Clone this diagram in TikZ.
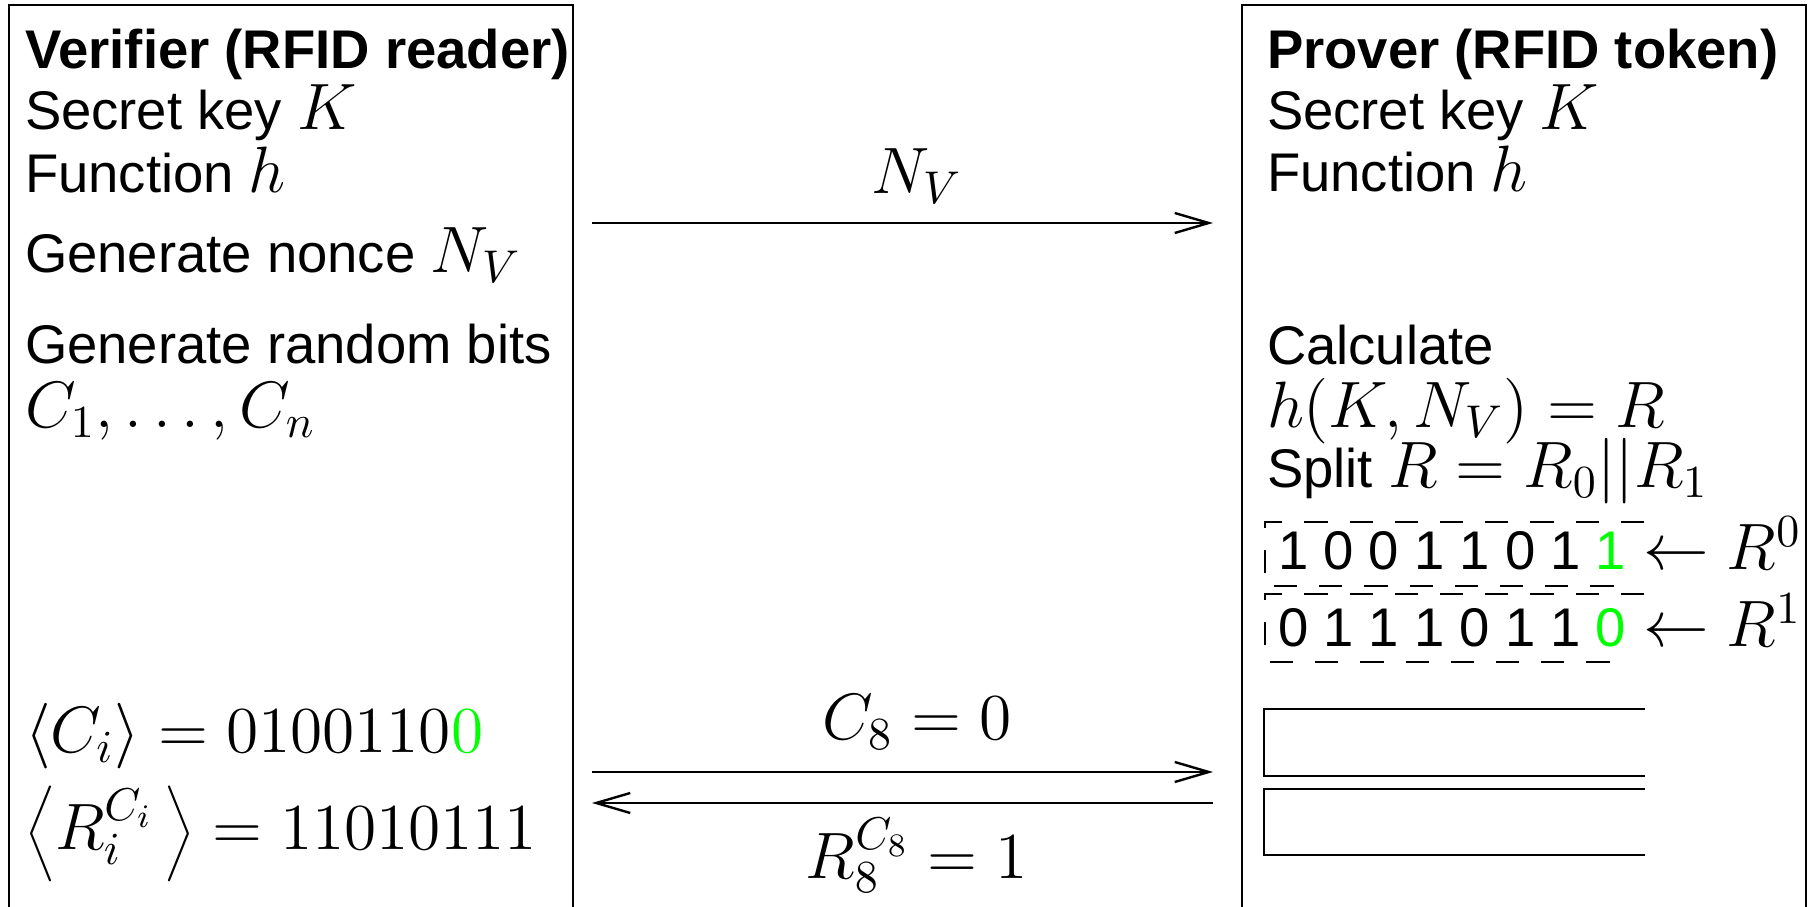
\RequirePackage{fix-cm}
\documentclass[tikz,border=0pt]{standalone}
\usepackage[no-math]{fontspec}
\setmainfont{Liberation Sans}[Scale=0.83]
\usetikzlibrary{arrows.meta}
\begin{document}
\begin{tikzpicture}[x=0.25pt,y=-0.25pt,
  every node/.style={font=\fontsize{16.4}{19.7}\selectfont},
  lbl/.style={anchor=base west, inner sep=0pt, outer sep=0pt},
  ctr/.style={anchor=base, inner sep=0pt, outer sep=0pt},
  frame/.style={line width=0.6pt},
  msg/.style={line width=0.6pt, -{Straight Barb[length=8.5pt,width=5pt]}},
  cell/.style={line width=0.6pt, dash pattern=on 5.8pt off 5.5pt},
  slot/.style={line width=0.7pt}]
\useasboundingbox (0,0) rectangle (1812,907);

% frames
\draw[frame] (9,915) -- (9,5) -- (573,5) -- (573,915);
\draw[frame] (1242,915) -- (1242,5) -- (1806,5) -- (1806,915);

% verifier column
\node[lbl] (vtitle) at (25,69) {\bfseries Verifier (RFID reader)};
\node[lbl] (vkey) at (25,130) {Secret key $K$};
\node[lbl] (vfun) at (25,193) {Function $h$};
\node[lbl] (vnonce) at (25,273) {Generate nonce $N_V$};
\node[lbl] (vrand) at (25,364) {Generate random bits};
\node[lbl] (vbits) at (25,428) {$C_1,\ldots,C_n$};
\node[lbl] (vci) at (25,753) {$\langle C_i\rangle = 0100110{\color{green}0}$};
\node[lbl] (vri) at (25,850) {$\biggl\langle R_i^{C_i}\,\biggr\rangle = 11010111$};

% prover column
\node[lbl] (ptitle) at (1267,69) {\bfseries Prover (RFID token)};
\node[lbl] (pkey) at (1267,130) {Secret key $K$};
\node[lbl] (pfun) at (1267,192) {Function $h$};
\node[lbl] (pcalc) at (1267,365) {Calculate};
\node[lbl] (phash) at (1267,428) {$h(K,N_V) = R$};
\node[lbl] (psplit) at (1267,488) {Split $R = R_0||R_1$};

% bit registers
\draw[cell] (1644,522) -- (1265,522) -- (1265,586) -- (1629,586);
\draw[cell] (1644,594) -- (1265,594) -- (1265,662) -- (1629,662);
\node[lbl] (rzero) at (1278,570) {1 0 0 1 1 0 1 \textcolor{green}{1}};
\node[lbl] (rzerolab) at (1643,570) {$\leftarrow R^0$};
\node[lbl] (rone) at (1278,647) {0 1 1 1 0 1 1 \textcolor{green}{0}};
\node[lbl] (ronelab) at (1643,647) {$\leftarrow R^1$};

% empty slots
\draw[slot] (1645,709) -- (1264,709) -- (1264,776) -- (1645,776);
\draw[slot] (1645,789) -- (1264,789) -- (1264,855) -- (1645,855);

% messages
\coordinate (nvA) at (592,223);
\coordinate (nvB) at (1213,223);
\coordinate (cA) at (592,772);
\coordinate (cB) at (1213,772);
\coordinate (rA) at (1213,803);
\coordinate (rB) at (592,803);
\draw[msg] (nvA) -- (nvB);
\draw[msg] (cA) -- (cB);
\draw[msg] (rA) -- (rB);
\node[ctr] (nvlab) at (917,194) {$N_V$};
\node[ctr] (clab) at (917,740) {$C_8 = 0$};
\node[ctr] (rlab) at (917,879) {$R_8^{C_8} = 1$};
\end{tikzpicture}
\end{document}
